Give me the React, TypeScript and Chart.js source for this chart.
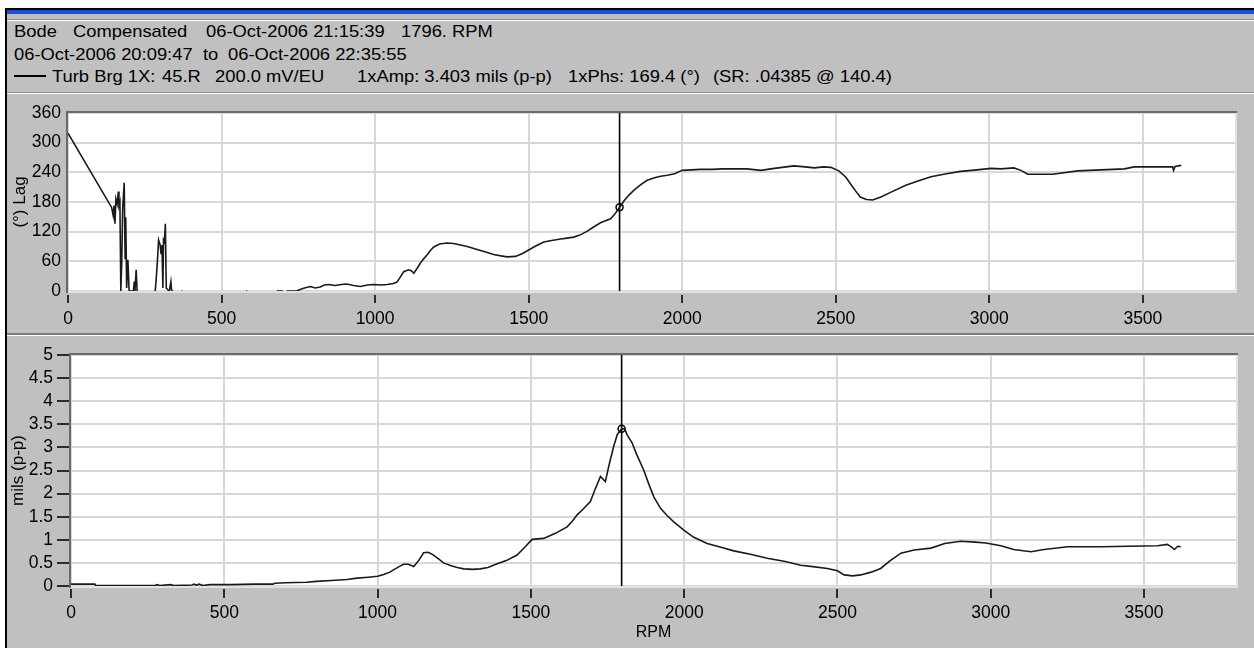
import React, { useEffect, useRef } from "react";
import { Chart, registerables } from "chart.js";

Chart.register(...registerables);

// ---------- data ----------
const X_TICKS = [0, 500, 1000, 1500, 2000, 2500, 3000, 3500];
const PHASE_TICKS = [0, 60, 120, 180, 240, 300, 360];
const AMP_TICKS = [0, 0.5, 1, 1.5, 2, 2.5, 3, 3.5, 4, 4.5, 5];

const CURSOR_RPM = 1796;
const CURSOR_PHASE = 169.4;
const CURSOR_AMP = 3.403;

const PHASE_RPM = [
  0, 142, 147, 150, 153, 156, 160, 164, 166, 169, 172, 175, 178, 183, 186, 188, 191, 195, 199, 213, 216, 218, 222, 225,
  250,
  284, 287, 291, 295, 300, 303, 306, 309, 311, 314, 317, 320, 324, 330, 335, 337, 340,
  355, 370, 373,
  470, 580, 584,
  640, 680, 700,
  706, 712, 745, 756, 770, 789, 805, 821, 835, 849, 870, 890, 908, 930, 952, 975, 995, 1020, 1039, 1060,
  1071, 1082, 1093, 1109, 1118, 1126, 1136, 1147, 1158, 1169, 1180, 1191, 1210, 1234, 1255, 1278, 1300, 1332,
  1360, 1386, 1410, 1430, 1457, 1480, 1500, 1520, 1549, 1575, 1604, 1625, 1647, 1670, 1691, 1710, 1734, 1750,
  1767, 1780, 1796, 1810, 1825, 1843, 1865, 1886, 1910, 1930, 1951, 1975, 2000, 2030, 2060, 2100, 2130, 2169,
  2210, 2256, 2300, 2364, 2400, 2430, 2460, 2484, 2510, 2533, 2550, 2565, 2580, 2600, 2620, 2647, 2680, 2728,
  2770, 2810, 2860, 2907, 2960, 3005, 3038, 3080, 3103, 3125, 3206, 3288, 3364, 3440, 3472, 3520, 3560, 3597,
  3600, 3605, 3625,
];
const PHASE_DEG = [
  319, 169, 153, 173, 136, 186, 176, 201, 173, 180, 0, 59, 166, 219, 66, 149, 6, 63, 0, 0, 19, 0, 43, 0,
  null,
  0, 23, 59, 103, 93, 76, 93, 6, 103, 99, 136, 6, 3, 0, 19, 3, 0,
  null, 0, 0,
  null, 0, 0,
  null, 0, 0,
  null, 0, 0, 3, 6, 9, 6, 8, 12, 13, 11, 13, 14, 11, 9, 12, 13, 12, 13, 15,
  18, 28, 39, 43, 41, 36, 45, 56, 65, 73, 82, 89, 95, 97, 96, 93, 90, 84,
  79, 74, 71, 69, 70, 76, 83, 90, 99, 102, 105, 107, 109, 114, 121, 129, 138, 142,
  146, 155, 169, 182, 193, 204, 215, 224, 229, 232, 234, 237, 244, 245, 246, 246, 247, 247,
  247, 244, 248, 253, 251, 249, 251, 250, 243, 230, 215, 202, 190, 185, 184, 190, 200, 214,
  223, 231, 237, 242, 245, 248, 247, 249, 244, 236, 236, 243, 245, 247, 251, 251, 251, 251,
  244, 252, 254,
];

const AMP_RPM = [
  0, 78, 80, 150, 200, 275, 280, 290, 325, 335, 395, 400, 410, 418, 430, 454, 520, 600, 660, 664, 700, 769,
  800, 850, 900, 933, 970, 1000, 1020, 1040, 1052, 1070, 1085, 1100, 1118, 1135, 1150, 1165, 1180, 1200, 1215,
  1240, 1260, 1281, 1310, 1335, 1360, 1390, 1420, 1455, 1480, 1504, 1542, 1580, 1618, 1635, 1651, 1670, 1694,
  1710, 1727, 1743, 1755, 1770, 1782, 1796, 1806, 1814, 1830, 1845, 1868, 1885, 1901, 1923, 1945, 1966, 1999,
  2030, 2075, 2120, 2162, 2220, 2271, 2330, 2380, 2420, 2467, 2500, 2522, 2550, 2576, 2610, 2641, 2670, 2707,
  2750, 2805, 2850, 2902, 2950, 2984, 3033, 3075, 3131, 3174, 3251, 3360, 3450, 3544, 3576, 3590, 3599, 3610, 3620,
];
const AMP_MILS = [
  0.04, 0.04, 0.01, 0.01, 0.01, 0.01, 0.03, 0.01, 0.03, 0.01, 0.02, 0.04, 0.02, 0.04, 0.01, 0.03, 0.03, 0.04, 0.04, 0.06, 0.07, 0.08,
  0.10, 0.12, 0.14, 0.17, 0.19, 0.21, 0.25, 0.30, 0.35, 0.42, 0.47, 0.47, 0.42, 0.56, 0.72, 0.73, 0.68, 0.58, 0.50,
  0.44, 0.40, 0.37, 0.36, 0.37, 0.40, 0.48, 0.55, 0.67, 0.84, 1.01, 1.03, 1.14, 1.28, 1.40, 1.54, 1.66, 1.83,
  2.10, 2.37, 2.26, 2.62, 3.02, 3.28, 3.40, 3.40, 3.27, 3.10, 2.85, 2.51, 2.20, 1.93, 1.68, 1.52, 1.39, 1.21,
  1.06, 0.92, 0.84, 0.76, 0.68, 0.60, 0.53, 0.45, 0.42, 0.38, 0.33, 0.24, 0.22, 0.24, 0.30, 0.38, 0.54, 0.71,
  0.78, 0.82, 0.92, 0.97, 0.95, 0.93, 0.87, 0.79, 0.74, 0.79, 0.85, 0.85, 0.86, 0.87, 0.90, 0.84, 0.79, 0.86, 0.85,
];

// ---------- styling ----------
const FAMILY = "'Liberation Sans', Arial, Helvetica, sans-serif";
const TICK_FONT = { family: FAMILY, size: 17.5 };
const TITLE_FONT = { family: FAMILY, size: 17 };
const GRID = "#d8d8d8";
const LINE = "#1a1a1a";

const framePlugin = {
  id: "frame",
  beforeDraw(chart: any) {
    const { ctx, chartArea: a } = chart;
    ctx.save();
    ctx.fillStyle = "#ffffff";
    ctx.fillRect(a.left, a.top, a.right - a.left, a.bottom - a.top);
    ctx.restore();
  },
  beforeDatasetsDraw(chart: any) {
    const { ctx, chartArea: a } = chart;
    ctx.save();
    ctx.lineWidth = 2;
    ctx.strokeStyle = "#e2e2e2";
    ctx.beginPath();
    ctx.moveTo(a.left, a.bottom + 1);
    ctx.lineTo(a.right + 1, a.bottom + 1);
    ctx.lineTo(a.right + 1, a.top);
    ctx.stroke();
    ctx.strokeStyle = "#6a6a6a";
    ctx.beginPath();
    ctx.moveTo(a.left - 1, a.bottom + 2);
    ctx.lineTo(a.left - 1, a.top - 1);
    ctx.lineTo(a.right + 2, a.top - 1);
    ctx.stroke();
    ctx.restore();
  },
};

function xScale(height: number, dash: number, pad: number, title?: string) {
  return {
    type: "linear",
    min: 0,
    max: 3800,
    afterBuildTicks: (s: any) => {
      s.ticks = X_TICKS.map((v) => ({ value: v }));
    },
    afterFit: (s: any) => {
      s.height = height;
      s.paddingLeft = 0;
      s.paddingRight = 0;
    },
    grid: {
      color: GRID,
      lineWidth: 2,
      drawTicks: true,
      tickLength: 12,
      tickWidth: 2,
      tickColor: "#2a2a2a",
      tickBorderDash: [dash, 12 - dash],
      tickBorderDashOffset: dash,
    },
    border: { display: false },
    ticks: {
      font: TICK_FONT,
      color: "#000",
      padding: pad,
      maxRotation: 0,
      autoSkip: false,
      callback: (v: any) => String(v),
    },
    title: title
      ? { display: true, text: title, font: { family: FAMILY, size: 16 }, color: "#000", padding: { top: 0, bottom: 6 } }
      : { display: false },
  };
}

function yScale(max: number, ticks: number[], width: number, drawTicks: boolean, pad: number, title: string, titlePad: number) {
  return {
    type: "linear",
    min: 0,
    max,
    afterBuildTicks: (s: any) => {
      s.ticks = ticks.map((v) => ({ value: v }));
    },
    afterFit: (s: any) => {
      s.width = width;
      s.paddingTop = 0;
      s.paddingBottom = 0;
    },
    grid: {
      color: GRID,
      lineWidth: 2,
      drawTicks,
      tickLength: 14,
      tickWidth: 2,
      tickColor: "#2a2a2a",
    },
    border: { display: false },
    ticks: {
      font: TICK_FONT,
      color: "#000",
      padding: pad,
      autoSkip: false,
      callback: (v: any) => String(v),
    },
    title: { display: true, text: title, font: TITLE_FONT, color: "#000", padding: { top: titlePad, bottom: 0 } },
  };
}

function series(xs: number[], ys: (number | null)[]) {
  return xs.map((x, i) => ({ x, y: ys[i] }));
}

function makeConfig(kind: "phase" | "amp"): any {
  const isPhase = kind === "phase";
  const yMax = isPhase ? 360 : 5;
  const main = isPhase ? series(PHASE_RPM, PHASE_DEG) : series(AMP_RPM, AMP_MILS);
  const markerY = isPhase ? CURSOR_PHASE : CURSOR_AMP;
  return {
    type: "line",
    data: {
      datasets: [
        {
          data: main,
          borderColor: LINE,
          borderWidth: 1.6,
          pointRadius: 0,
          tension: 0,
          spanGaps: false,
        },
        {
          data: [
            { x: CURSOR_RPM, y: 0 },
            { x: CURSOR_RPM, y: yMax },
          ],
          borderColor: "#000",
          borderWidth: 1.6,
          pointRadius: 0,
        },
        {
          data: [{ x: CURSOR_RPM, y: markerY }],
          showLine: false,
          pointRadius: 3.5,
          pointBorderWidth: 1.5,
          pointBorderColor: "#000",
          pointBackgroundColor: "#fff",
        },
      ],
    },
    options: {
      responsive: false,
      animation: false,
      devicePixelRatio: 1,
      events: [],
      layout: isPhase
        ? { padding: { top: 17, right: 19, left: 0, bottom: 0 } }
        : { padding: { top: 19, right: 18, left: 0, bottom: 0 } },
      plugins: { legend: { display: false }, tooltip: { enabled: false } },
      scales: isPhase
        ? {
            x: xScale(42, 8, 6),
            y: yScale(360, PHASE_TICKS, 68, false, 7, "(°) Lag", 10),
          }
        : {
            x: xScale(62, 9, 4.5, "RPM"),
            y: yScale(5, AMP_TICKS, 71, true, 4, "mils (p-p)", 8),
          },
    },
    plugins: [framePlugin],
  };
}

const textStyle = (left: number, top: number): React.CSSProperties => ({
  position: "absolute",
  left,
  top,
  fontFamily: FAMILY,
  fontSize: 17,
  lineHeight: "20px",
  color: "#000",
  whiteSpace: "pre",
  transform: "scaleX(1.08)",
  transformOrigin: "0 0",
});

export default function App() {
  const topRef = useRef<HTMLCanvasElement>(null);
  const botRef = useRef<HTMLCanvasElement>(null);

  useEffect(() => {
    const c1 = new Chart(topRef.current as HTMLCanvasElement, makeConfig("phase"));
    const c2 = new Chart(botRef.current as HTMLCanvasElement, makeConfig("amp"));
    return () => {
      c1.destroy();
      c2.destroy();
    };
  }, []);

  const line = (top: number, color: string, left = 7): React.CSSProperties => ({
    position: "absolute",
    left,
    right: 0,
    top,
    height: 1,
    background: color,
  });

  return (
    <div
      style={{
        position: "fixed",
        left: 0,
        top: 0,
        width: 1254,
        height: 648,
        background: "#fff",
        overflow: "hidden",
      }}
    >
      <div
        style={{
          position: "absolute",
          left: 5,
          top: 8,
          right: 0,
          bottom: 0,
          background: "#c0c0c0",
          borderLeft: "2px solid #000",
          borderTop: "2px solid #000",
        }}
      />
      <div style={{ position: "absolute", left: 7, right: 0, top: 10, height: 4, background: "#1d4fd8" }} />
      <div style={line(19, "#8c8c8c")} />
      <div style={line(20, "#ffffff")} />
      <div style={line(92, "#8c8c8c")} />
      <div style={line(93, "#ffffff")} />
      <div style={line(333, "#7c7c7c")} />
      <div style={line(334, "#7c7c7c")} />
      <div style={line(335, "#ffffff")} />

      <span style={textStyle(14, 22)}>Bode</span>
      <span style={textStyle(73, 22)}>Compensated</span>
      <span style={textStyle(206, 22)}>06-Oct-2006 21:15:39</span>
      <span style={textStyle(401, 22)}>1796. RPM</span>

      <span style={textStyle(14, 45)}>06-Oct-2006 20:09:47</span>
      <span style={textStyle(203, 45)}>to</span>
      <span style={textStyle(228, 45)}>06-Oct-2006 22:35:55</span>

      <div style={{ position: "absolute", left: 14, top: 75, width: 32, height: 2, background: "#000" }} />
      <span style={textStyle(52, 67)}>Turb Brg 1X:</span>
      <span style={textStyle(162, 67)}>45.R</span>
      <span style={textStyle(215, 67)}>200.0 mV/EU</span>
      <span style={textStyle(357, 67)}>1xAmp: 3.403 mils (p-p)</span>
      <span style={textStyle(568, 67)}>1xPhs: 169.4 (°)</span>
      <span style={textStyle(713, 67)}>(SR: .04385 @ 140.4)</span>

      <canvas
        ref={topRef}
        width={1254}
        height={237}
        style={{ position: "absolute", left: 0, top: 96, width: 1254, height: 237 }}
      />
      <canvas
        ref={botRef}
        width={1254}
        height={312}
        style={{ position: "absolute", left: 0, top: 336, width: 1254, height: 312 }}
      />
    </div>
  );
}
